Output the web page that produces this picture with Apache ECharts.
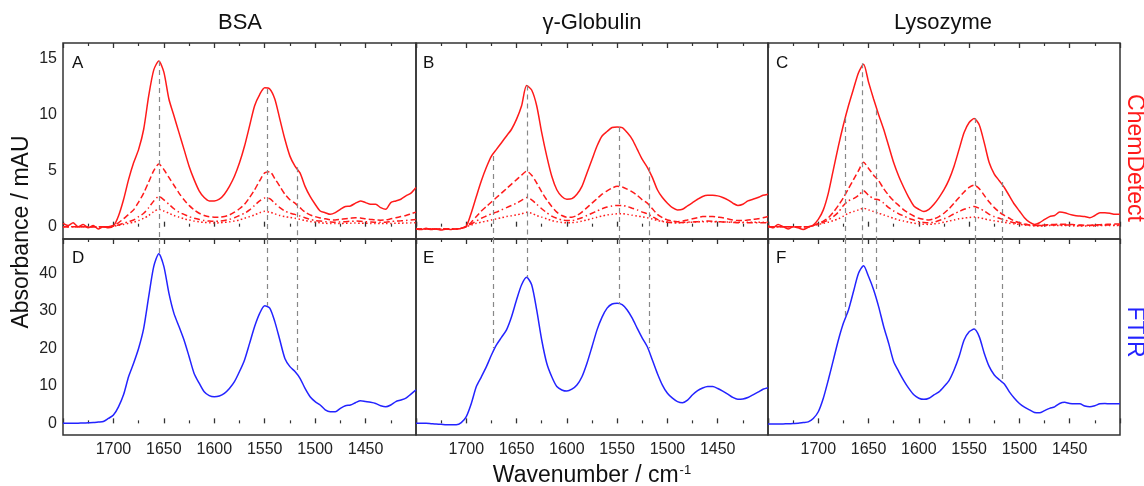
<!DOCTYPE html>
<html>
<head>
<meta charset="utf-8">
<script src="https://cdn.jsdelivr.net/npm/echarts@6/dist/echarts.min.js"></script>
<style>
  html, body { margin: 0; padding: 0; background: #fff; }
  #chart { width: 1144px; height: 486px; }
</style>
</head>
<body>
<div id="chart"></div>
<script>
// wavenumber grid, cm-1 (axis runs 1750 -> 1400)
const wavenumbers = [1750, 1745, 1740, 1735, 1730, 1725, 1720, 1715, 1710, 1705,
  1700, 1695, 1690, 1685, 1680, 1675, 1670, 1665, 1660, 1655,
  1650, 1645, 1640, 1635, 1630, 1625, 1620, 1615, 1610, 1605,
  1600, 1595, 1590, 1585, 1580, 1575, 1570, 1565, 1560, 1555,
  1550, 1545, 1540, 1535, 1530, 1525, 1520, 1515, 1510, 1505,
  1500, 1495, 1490, 1485, 1480, 1475, 1470, 1465, 1460, 1455,
  1450, 1445, 1440, 1435, 1430, 1425, 1420, 1415, 1410, 1405, 1400];

const panelTitles = ['BSA', 'γ-Globulin', 'Lysozyme'];
const panelLetters = ['A', 'B', 'C', 'D', 'E', 'F'];
const cdTicks = [0, 5, 10, 15];
const ftTicks = [0, 10, 20, 30, 40];

// ChemDetect, BSA (solid, dashed, dash-dot, dotted)
const bsaCD = [0.3, 0.1, 0.35, 0.0, 0.2, -0.1, 0.1, -0.2, 0.0, -0.1,
  0.05, 0.95, 2.4, 4.2, 5.7, 6.9, 8.7, 11.7, 14.0, 14.8,
  13.8, 11.4, 9.9, 8.4, 6.9, 5.4, 4.2, 3.2, 2.6, 2.3,
  2.3, 2.45, 2.9, 3.6, 4.5, 5.7, 7.2, 9.0, 10.8, 11.8,
  12.4, 12.3, 11.4, 9.6, 7.8, 6.3, 5.4, 4.8, 3.6, 2.7,
  2.0, 1.4, 1.25, 1.1, 1.25, 1.55, 1.8, 1.85, 2.1, 2.3,
  2.15, 2.0, 2.0, 1.7, 1.55, 2.15, 2.3, 2.45, 2.75, 3.0, 3.5];
const bsaCD2 = [0, 0, 0, 0, 0, 0, 0, 0, 0, 0,
  0.1, 0.35, 0.7, 1.1, 1.5, 2.2, 3.0, 4.0, 5.0, 5.6,
  5.1, 4.4, 3.7, 3.0, 2.4, 1.9, 1.5, 1.2, 1.0, 0.88,
  0.85, 0.85, 0.9, 1.05, 1.3, 1.6, 2.0, 2.6, 3.3, 4.1,
  4.8, 4.9, 4.3, 3.6, 2.9, 2.4, 2.1, 1.7, 1.3, 1.05,
  0.9, 0.78, 0.7, 0.62, 0.6, 0.65, 0.7, 0.75, 0.8, 0.78,
  0.7, 0.65, 0.6, 0.58, 0.6, 0.7, 0.8, 0.9, 1.0, 1.15, 1.3];
const bsaCD3 = [0, 0, 0, 0, 0, 0, 0, 0, 0, 0,
  0.05, 0.15, 0.3, 0.45, 0.6, 0.9, 1.2, 1.7, 2.3, 2.7,
  2.4, 2.0, 1.6, 1.3, 1.1, 0.9, 0.75, 0.65, 0.55, 0.5,
  0.48, 0.5, 0.55, 0.65, 0.8, 1.0, 1.2, 1.5, 1.9, 2.3,
  2.55, 2.5, 2.1, 1.7, 1.4, 1.2, 1.1, 0.95, 0.8, 0.65,
  0.55, 0.5, 0.45, 0.42, 0.4, 0.42, 0.45, 0.48, 0.5, 0.48,
  0.45, 0.42, 0.4, 0.4, 0.4, 0.45, 0.5, 0.52, 0.55, 0.6, 0.65];
const bsaCD4 = [0, 0, 0, 0, 0, 0, 0, 0, 0, 0,
  0.05, 0.12, 0.2, 0.3, 0.4, 0.55, 0.75, 1.0, 1.35, 1.55,
  1.4, 1.2, 1.0, 0.85, 0.7, 0.6, 0.5, 0.43, 0.38, 0.35,
  0.33, 0.35, 0.38, 0.43, 0.5, 0.6, 0.75, 0.9, 1.05, 1.25,
  1.37, 1.3, 1.15, 1.0, 0.9, 0.82, 0.75, 0.65, 0.55, 0.47,
  0.4, 0.35, 0.3, 0.28, 0.28, 0.29, 0.3, 0.31, 0.32, 0.31,
  0.3, 0.29, 0.28, 0.28, 0.28, 0.29, 0.3, 0.31, 0.33, 0.34, 0.35];

// ChemDetect, gamma-globulin
const globCD = [-0.2, -0.25, -0.15, -0.25, -0.2, -0.3, -0.2, -0.25, -0.2, -0.15,
  0.05, 1.25, 2.7, 4.1, 5.3, 6.3, 6.9, 7.5, 8.1, 8.7,
  9.6, 10.8, 12.6, 12.2, 10.8, 8.4, 6.3, 4.5, 3.3, 2.7,
  2.45, 2.5, 2.9, 3.6, 4.8, 6.0, 7.2, 8.1, 8.5, 8.85,
  8.9, 8.85, 8.4, 7.8, 6.9, 6.0, 5.3, 4.4, 3.3, 2.6,
  2.1, 1.7, 1.5, 1.55, 1.85, 2.15, 2.45, 2.7, 2.8, 2.8,
  2.75, 2.6, 2.4, 2.1, 1.9, 2.0, 2.3, 2.45, 2.6, 2.8, 2.9];
const globCD2 = [-0.2, -0.2, -0.2, -0.2, -0.2, -0.2, -0.2, -0.2, -0.2, -0.15,
  0.0, 0.4, 0.9, 1.4, 1.8, 2.2, 2.6, 3.0, 3.4, 3.8,
  4.2, 4.6, 4.95, 4.6, 3.9, 3.1, 2.4, 1.8, 1.3, 1.0,
  0.85, 0.85, 1.0, 1.3, 1.7, 2.1, 2.5, 2.9, 3.2, 3.45,
  3.6, 3.55, 3.35, 3.1, 2.8, 2.4, 2.1, 1.6, 1.1, 0.8,
  0.6, 0.5, 0.45, 0.5, 0.6, 0.7, 0.8, 0.9, 0.9, 0.9,
  0.85, 0.8, 0.7, 0.6, 0.55, 0.55, 0.6, 0.65, 0.7, 0.8, 0.9];
const globCD3 = [-0.2, -0.2, -0.2, -0.2, -0.2, -0.2, -0.2, -0.2, -0.2, -0.15,
  0.0, 0.25, 0.5, 0.75, 0.95, 1.15, 1.3, 1.5, 1.7, 1.9,
  2.1, 2.35, 2.6, 2.4, 2.0, 1.6, 1.25, 0.95, 0.75, 0.6,
  0.55, 0.55, 0.65, 0.8, 1.0, 1.2, 1.4, 1.6, 1.75, 1.85,
  1.9, 1.9, 1.8, 1.65, 1.5, 1.3, 1.15, 0.9, 0.65, 0.5,
  0.4, 0.37, 0.35, 0.37, 0.4, 0.42, 0.45, 0.48, 0.5, 0.48,
  0.45, 0.42, 0.4, 0.38, 0.35, 0.35, 0.35, 0.35, 0.35, 0.35, 0.35];
const globCD4 = [-0.2, -0.2, -0.2, -0.2, -0.2, -0.2, -0.2, -0.2, -0.2, -0.15,
  0.0, 0.15, 0.3, 0.4, 0.5, 0.6, 0.7, 0.8, 0.9, 0.98,
  1.05, 1.15, 1.28, 1.2, 1.0, 0.85, 0.7, 0.55, 0.45, 0.38,
  0.35, 0.36, 0.4, 0.5, 0.6, 0.72, 0.85, 0.95, 1.05, 1.1,
  1.15, 1.15, 1.1, 1.02, 0.95, 0.88, 0.8, 0.68, 0.55, 0.47,
  0.4, 0.37, 0.35, 0.36, 0.38, 0.4, 0.42, 0.44, 0.45, 0.45,
  0.45, 0.43, 0.42, 0.41, 0.4, 0.4, 0.4, 0.4, 0.4, 0.4, 0.4];

// ChemDetect, lysozyme
const lysoCD = [0.1, -0.1, 0.2, 0.0, -0.2, 0.0, -0.1, -0.25, -0.05, 0.15,
  0.65, 1.5, 3.0, 5.1, 7.2, 9.1, 10.8, 12.3, 13.75, 14.5,
  12.9, 11.4, 10.0, 8.7, 7.2, 5.7, 4.5, 3.5, 2.6, 1.85,
  1.55, 1.35, 1.55, 2.0, 2.6, 3.3, 4.2, 5.4, 6.9, 8.4,
  9.3, 9.65, 9.1, 7.5, 5.7, 4.7, 4.1, 3.5, 2.75, 2.0,
  1.4, 0.8, 0.4, 0.2, 0.35, 0.65, 0.9, 1.0, 1.3, 1.25,
  1.1, 1.0, 0.95, 0.9, 0.8, 1.0, 1.25, 1.25, 1.2, 1.1, 1.1];
const lysoCD2 = [0, 0, 0, 0, 0, 0, 0, 0, 0, 0.1,
  0.3, 0.5, 0.8, 1.3, 1.9, 2.6, 3.4, 4.2, 5.0, 5.75,
  5.2, 4.6, 4.1, 3.4, 2.8, 2.3, 1.9, 1.5, 1.2, 0.95,
  0.75, 0.65, 0.6, 0.7, 0.9, 1.2, 1.6, 2.1, 2.6, 3.1,
  3.5, 3.7, 3.4, 2.8, 2.2, 1.7, 1.3, 1.0, 0.75, 0.5,
  0.35, 0.25, 0.15, 0.1, 0.12, 0.15, 0.18, 0.2, 0.22, 0.22,
  0.2, 0.18, 0.15, 0.12, 0.12, 0.15, 0.18, 0.2, 0.22, 0.25, 0.25];
const lysoCD3 = [0, 0, 0, 0, 0, 0, 0, 0, 0, 0.1,
  0.2, 0.4, 0.6, 0.9, 1.3, 1.9, 2.3, 2.5, 2.8, 3.2,
  2.8, 2.5, 2.4, 2.1, 1.7, 1.4, 1.15, 0.95, 0.75, 0.6,
  0.45, 0.38, 0.35, 0.4, 0.55, 0.7, 0.9, 1.15, 1.35, 1.55,
  1.7, 1.8, 1.65, 1.4, 1.1, 0.9, 0.75, 0.6, 0.45, 0.35,
  0.25, 0.2, 0.15, 0.12, 0.1, 0.12, 0.15, 0.15, 0.15, 0.15,
  0.15, 0.12, 0.1, 0.1, 0.1, 0.12, 0.15, 0.15, 0.15, 0.15, 0.15];
const lysoCD4 = [0, 0, 0, 0, 0, 0, 0, 0, 0, 0.1,
  0.2, 0.3, 0.4, 0.55, 0.7, 0.95, 1.2, 1.35, 1.5, 1.65,
  1.5, 1.35, 1.2, 1.05, 0.9, 0.75, 0.6, 0.5, 0.4, 0.32,
  0.25, 0.22, 0.2, 0.25, 0.3, 0.4, 0.5, 0.6, 0.7, 0.77,
  0.82, 0.86, 0.8, 0.7, 0.6, 0.52, 0.45, 0.38, 0.3, 0.25,
  0.2, 0.15, 0.1, 0.07, 0.05, 0.07, 0.1, 0.1, 0.1, 0.1,
  0.1, 0.07, 0.05, 0.05, 0.05, 0.07, 0.1, 0.1, 0.1, 0.1, 0.1];

// FTIR
const bsaFT = [0, 0, 0, 0.05, 0.1, 0.15, 0.2, 0.35, 0.5, 1.3,
  2.2, 4.4, 7.6, 12.4, 16.0, 20.0, 25.3, 33.8, 41.8, 45.2,
  41.8, 34.7, 29.3, 25.8, 22.2, 17.8, 13.3, 10.7, 8.4, 7.4,
  7.1, 7.3, 8.0, 9.3, 11.1, 13.8, 16.9, 21.3, 25.8, 29.3,
  31.3, 30.7, 27.1, 22.2, 17.3, 15.1, 13.8, 12.0, 9.3, 7.1,
  5.8, 4.9, 3.6, 3.1, 3.1, 4.0, 4.7, 4.9, 5.5, 6.0,
  5.8, 5.6, 5.3, 4.7, 4.4, 4.9, 5.8, 6.2, 6.7, 7.8, 8.9];
const globFT = [0, 0, 0, -0.1, -0.2, -0.25, -0.35, -0.35, -0.35, 0.2,
  1.8, 5.3, 9.8, 12.4, 15.1, 18.2, 20.9, 22.9, 24.9, 28.4,
  32.9, 36.9, 38.9, 36.9, 30.2, 22.2, 16.0, 12.4, 9.8, 8.9,
  8.6, 9.1, 10.2, 12.4, 16.0, 20.4, 24.9, 28.3, 30.7, 31.8,
  32.0, 31.6, 30.2, 28.0, 25.3, 22.7, 20.4, 16.9, 13.3, 10.2,
  8.0, 6.7, 5.8, 5.5, 6.2, 7.6, 8.7, 9.4, 9.8, 9.8,
  9.3, 8.6, 7.8, 6.9, 6.4, 6.5, 6.9, 7.6, 8.3, 9.1, 9.5];
const lysoFT = [-0.2, -0.2, -0.2, -0.15, -0.1, -0.05, 0.0, 0.2, 0.4, 1.3,
  3.1, 6.7, 11.6, 16.9, 22.2, 26.7, 30.2, 35.1, 40.0, 42.0,
  39.1, 35.6, 31.1, 25.8, 21.3, 16.4, 13.8, 11.4, 9.3, 7.6,
  6.7, 6.4, 6.7, 7.6, 8.4, 9.8, 11.4, 14.2, 17.8, 22.2,
  24.4, 25.1, 23.1, 18.7, 15.1, 12.9, 11.6, 10.5, 8.4, 6.7,
  5.3, 4.3, 3.6, 2.9, 2.8, 3.4, 4.0, 4.4, 5.3, 5.6,
  5.3, 5.2, 5.2, 4.6, 4.4, 4.7, 5.2, 5.3, 5.2, 5.2, 5.2];

// band positions marked by the grey dashed lines, with the curve heights they meet
const bsaBands = [1655, 1547, 1518];
const bsaBandCD = [14.8, 12.3, 5.3];
const bsaBandFT = [45.2, 31.3, 14.2];
const globBands = [1673, 1639, 1548, 1518];
const globBandCD = [6.3, 12.6, 8.9, 5.3];
const globBandFT = [20.1, 38.9, 31.8, 20.0];
const lysoBands = [1673, 1656, 1642, 1544, 1517];
const lysoBandCD = [9.7, 14.6, 10.4, 9.7, 4.0];
const lysoBandFT = [28.0, 42.0, 35.0, 25.0, 11.5];

const RED = '#ff1a1a';
const BLUE = '#2323ff';
const FONT = '"Liberation Sans", Arial, sans-serif';
const CD_MIN = -1.1, CD_MAX = 16.4;
const FT_MIN = -3.1, FT_MAX = 49.1;

const chart = echarts.init(document.getElementById('chart'), null, { renderer: 'canvas' });

const lefts = [63, 416, 768];
const widths = [353, 352, 352];
const tops = [43, 239];
const grids = [];
for (let r = 0; r < 2; r++) {
  for (let c = 0; c < 3; c++) {
    grids.push({
      left: lefts[c], top: tops[r], width: widths[c], height: 196,
      show: true, borderColor: '#333', borderWidth: 1.5, backgroundColor: 'transparent'
    });
  }
}

function xAxisFor(gi, position, showLabels) {
  return {
    type: 'value', gridIndex: gi, position: position,
    min: 1400, max: 1750, interval: 50, inverse: true,
    axisLine: { show: false },
    axisTick: { show: true, inside: true, length: 5, lineStyle: { color: '#333', width: 1.3 } },
    minorTick: { show: true, splitNumber: 2, length: 3, lineStyle: { color: '#333', width: 1.2 } },
    splitLine: { show: false },
    axisLabel: {
      show: showLabels, margin: 7, color: '#222', fontSize: 16, fontFamily: FONT,
      showMinLabel: false, showMaxLabel: false,
      formatter: (v) => String(v)
    }
  };
}

const xAxes = [];
for (let g = 0; g < 6; g++) xAxes.push(xAxisFor(g, 'bottom', g >= 3));
for (let g = 0; g < 6; g++) xAxes.push(xAxisFor(g, 'top', false));

const yAxes = [];
for (let g = 0; g < 6; g++) {
  const top = g < 3;
  yAxes.push({
    type: 'value', gridIndex: g,
    min: top ? CD_MIN : FT_MIN, max: top ? CD_MAX : FT_MAX,
    axisLine: { show: false },
    axisTick: { show: false },
    splitLine: { show: false },
    axisLabel: {
      show: g === 0 || g === 3, margin: 6, color: '#222', fontSize: 16, fontFamily: FONT,
      customValues: top ? cdTicks : ftTicks
    }
  });
}

const dashDotted = [6, 3, 1.5, 3];
function curve(gi, vals, color, type, marks) {
  const s = {
    type: 'line', xAxisIndex: gi, yAxisIndex: gi,
    data: wavenumbers.map((w, i) => [w, vals[i]]),
    showSymbol: false, symbol: 'none', smooth: 0.25,
    lineStyle: { color: color, width: 1.5, type: type },
    silent: true, z: 3
  };
  if (marks) {
    s.markLine = {
      silent: true, symbol: ['none', 'none'], label: { show: false },
      lineStyle: { color: '#888', width: 1.2, type: [5, 4] },
      data: marks
    };
  }
  return s;
}

function bandsDown(bands, heights) {
  return bands.map((b, i) => [{ coord: [b, heights[i]] }, { coord: [b, CD_MIN] }]);
}
function bandsUp(bands, heights) {
  return bands.map((b, i) => [{ coord: [b, FT_MAX] }, { coord: [b, heights[i]] }]);
}

const cdSets = [
  [bsaCD, bsaCD2, bsaCD3, bsaCD4, bsaBands, bsaBandCD],
  [globCD, globCD2, globCD3, globCD4, globBands, globBandCD],
  [lysoCD, lysoCD2, lysoCD3, lysoCD4, lysoBands, lysoBandCD]
];
const ftSets = [
  [bsaFT, bsaBands, bsaBandFT],
  [globFT, globBands, globBandFT],
  [lysoFT, lysoBands, lysoBandFT]
];

const series = [];
cdSets.forEach((set, c) => {
  series.push(curve(c, set[0], RED, 'solid', bandsDown(set[4], set[5])));
  series.push(curve(c, set[1], RED, [6, 3], null));
  series.push(curve(c, set[2], RED, dashDotted, null));
  series.push(curve(c, set[3], RED, [1.5, 2.5], null));
});
ftSets.forEach((set, c) => {
  series.push(curve(c + 3, set[0], BLUE, 'solid', bandsUp(set[1], set[2])));
});

const graphics = [];
const titleX = [240, 592, 943];
panelTitles.forEach((t, i) => {
  graphics.push({ type: 'text', x: titleX[i], y: 23,
    style: { text: t, fill: '#111', font: '22px ' + FONT, textAlign: 'center', textVerticalAlign: 'middle' } });
});
const letterX = [72, 423, 776];
panelLetters.forEach((t, i) => {
  graphics.push({ type: 'text', x: letterX[i % 3], y: i < 3 ? 63 : 258,
    style: { text: t, fill: '#111', font: '17px ' + FONT, textAlign: 'left', textVerticalAlign: 'middle' } });
});
graphics.push({ type: 'text', x: 22, y: 232, rotation: Math.PI / 2,
  style: { text: 'Absorbance / mAU', fill: '#111', font: '23px ' + FONT, textAlign: 'center', textVerticalAlign: 'middle' } });
graphics.push({ type: 'text', x: 1134, y: 158, rotation: -Math.PI / 2,
  style: { text: 'ChemDetect', fill: RED, font: '23px ' + FONT, textAlign: 'center', textVerticalAlign: 'middle' } });
graphics.push({ type: 'text', x: 1134, y: 332, rotation: -Math.PI / 2,
  style: { text: 'FTIR', fill: BLUE, font: '23px ' + FONT, textAlign: 'center', textVerticalAlign: 'middle' } });
graphics.push({ type: 'text', x: 592, y: 476,
  style: {
    text: '{a|Wavenumber / cm}{s|-1}', textAlign: 'center', textVerticalAlign: 'middle',
    rich: {
      a: { fill: '#111', font: '23px ' + FONT },
      s: { fill: '#111', font: '13px ' + FONT, verticalAlign: 'top', padding: [0, 0, 12, 1] }
    }
  } });

chart.setOption({
  animation: false,
  backgroundColor: '#fff',
  grid: grids,
  xAxis: xAxes,
  yAxis: yAxes,
  series: series,
  graphic: graphics
});
</script>
</body>
</html>
